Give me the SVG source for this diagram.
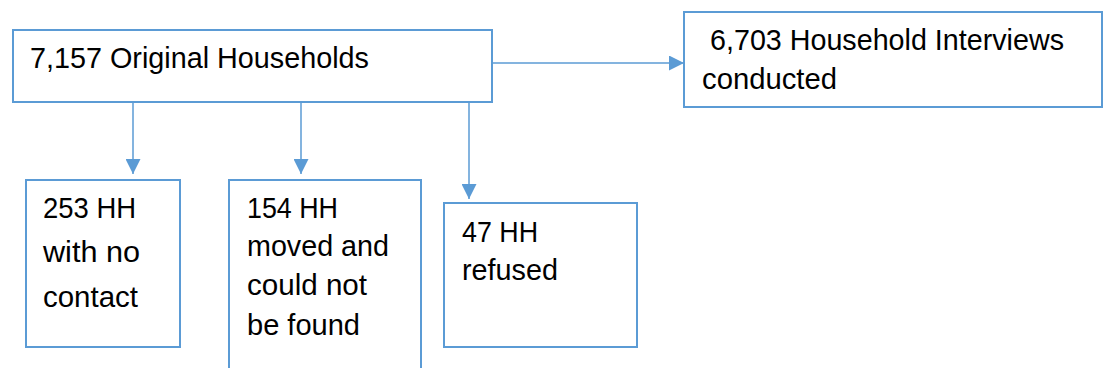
<svg xmlns="http://www.w3.org/2000/svg" width="1103" height="368" viewBox="0 0 1103 368">
  <style>
    .box { fill: #ffffff; stroke: #5B9BD5; stroke-width: 2; }
    .conn { fill: none; stroke: #5B9BD5; stroke-width: 1.5; }
    text { font-family: "Liberation Sans", Arial, sans-serif; font-size: 30px; fill: #000000; }
  </style>
  <defs>
    <marker id="arrow" viewBox="0 0 10 10" refX="10" refY="5" markerWidth="15" markerHeight="15" markerUnits="userSpaceOnUse" orient="auto">
      <path d="M0,0 L10,5 L0,10 Z" fill="#5B9BD5"/>
    </marker>
  </defs>
  <rect width="1103" height="368" fill="#ffffff"/>

  <g id="connectors">
    <line class="conn" x1="492" y1="63" x2="684" y2="63" marker-end="url(#arrow)"/>
    <line class="conn" x1="133" y1="102" x2="133" y2="174" marker-end="url(#arrow)"/>
    <line class="conn" x1="301" y1="102" x2="301" y2="174" marker-end="url(#arrow)"/>
    <line class="conn" x1="469" y1="102" x2="469" y2="199" marker-end="url(#arrow)"/>
  </g>

  <g id="node-original">
    <rect class="box" x="13" y="30" width="479" height="72"/>
    <text x="30" y="68" textLength="339" lengthAdjust="spacingAndGlyphs">7,157 Original Households</text>
  </g>

  <g id="node-interviews">
    <rect class="box" x="684" y="12" width="418" height="95"/>
    <text x="710" y="50" textLength="354" lengthAdjust="spacingAndGlyphs">6,703 Household Interviews</text>
    <text x="702" y="89" textLength="135" lengthAdjust="spacingAndGlyphs">conducted</text>
  </g>

  <g id="node-nocontact">
    <rect class="box" x="26" y="180" width="154" height="167"/>
    <text x="43" y="218" textLength="93" lengthAdjust="spacingAndGlyphs">253 HH</text>
    <text x="43" y="262" textLength="97" lengthAdjust="spacingAndGlyphs">with no</text>
    <text x="43" y="307" textLength="95" lengthAdjust="spacingAndGlyphs">contact</text>
  </g>

  <g id="node-moved">
    <rect class="box" x="229" y="180" width="192" height="200"/>
    <text x="247" y="218" textLength="91" lengthAdjust="spacingAndGlyphs">154 HH</text>
    <text x="247" y="256" textLength="142" lengthAdjust="spacingAndGlyphs">moved and</text>
    <text x="247" y="295" textLength="120" lengthAdjust="spacingAndGlyphs">could not</text>
    <text x="247" y="335" textLength="113" lengthAdjust="spacingAndGlyphs">be found</text>
  </g>

  <g id="node-refused">
    <rect class="box" x="444" y="203" width="193" height="144"/>
    <text x="462" y="242" textLength="76" lengthAdjust="spacingAndGlyphs">47 HH</text>
    <text x="462" y="280" textLength="96" lengthAdjust="spacingAndGlyphs">refused</text>
  </g>
</svg>
